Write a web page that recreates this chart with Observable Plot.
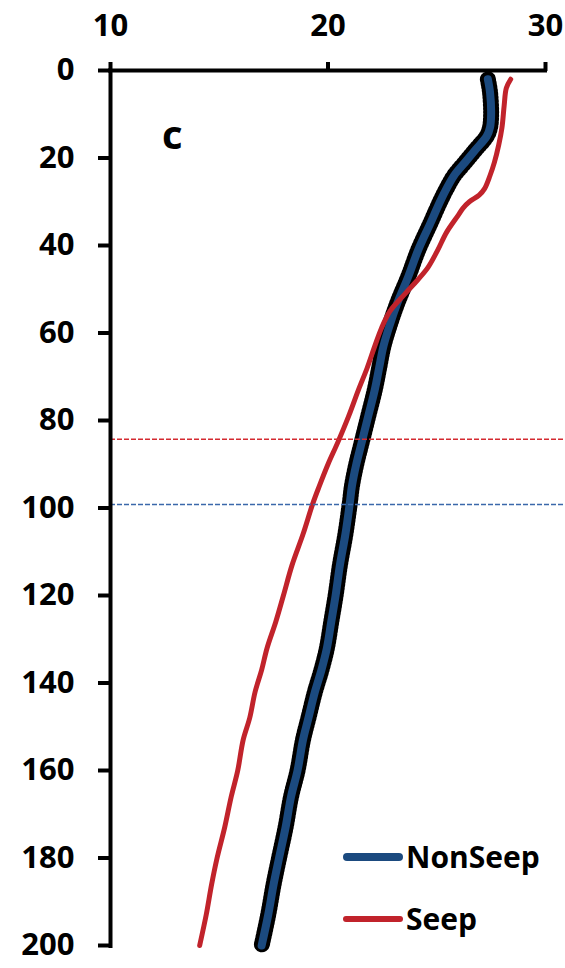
<!DOCTYPE html>
<html>
<head>
<meta charset="utf-8">
<script src="https://cdn.jsdelivr.net/npm/d3@7"></script>
<script src="https://cdn.jsdelivr.net/npm/@observablehq/plot@0.6"></script>
<style>
  html, body { margin: 0; padding: 0; background: #fff; }
  #wrap { position: relative; width: 565px; height: 968px; font-family: "Open Sans", Lato, sans-serif; font-weight: 700; color: #000; }
  #panel { position: absolute; left: 162px; top: 114px; font-size: 40px; line-height: 1; }
  #legend { position: absolute; left: 343px; top: 826px; font-size: 30px; line-height: 1; }
  .row { display: flex; align-items: center; height: 62px; }
  .sw { width: 60px; border-radius: 5px; margin-right: 3px; }
</style>
</head>
<body>
<div id="wrap">
  <div id="chart"></div>
  <div id="panel">c</div>
  <div id="legend"></div>
</div>
<script>
// ---- data ----
const seriesNames = ["NonSeep", "Seep"];
const seriesColors = ["#1b4a7f", "#c1232b"];

const depthNonSeep = [2, 5, 10, 13, 15, 18, 21, 24, 27, 30, 35, 41, 47, 53, 58, 63, 68, 73, 79, 85, 90, 95, 99, 106, 113, 120, 126, 132, 137, 142, 148, 153, 160, 166, 173, 180, 186, 193, 200];
const tempNonSeep  = [27.35, 27.45, 27.5, 27.45, 27.3, 26.8, 26.3, 25.8, 25.45, 25.15, 24.7, 24.15, 23.7, 23.2, 22.85, 22.55, 22.35, 22.15, 21.85, 21.55, 21.3, 21.1, 21.0, 20.8, 20.55, 20.35, 20.15, 19.95, 19.7, 19.4, 19.1, 18.85, 18.6, 18.3, 18.05, 17.75, 17.5, 17.25, 16.95];

const depthSeep = [2, 4, 8, 13, 17, 21, 24, 27, 28.5, 30, 31.5, 33, 37, 41, 45, 48, 51, 55, 59, 63, 68, 73, 79, 85, 90, 95, 99, 106, 113, 120, 126, 132, 137, 142, 148, 153, 160, 166, 173, 180, 186, 193, 200];
const tempSeep  = [28.4, 28.2, 28.1, 28.0, 27.85, 27.65, 27.45, 27.2, 26.95, 26.5, 26.2, 26.0, 25.45, 25.05, 24.6, 24.1, 23.55, 22.85, 22.45, 22.15, 21.8, 21.4, 20.95, 20.45, 20.0, 19.6, 19.3, 18.85, 18.35, 17.95, 17.6, 17.2, 16.95, 16.65, 16.4, 16.1, 15.85, 15.55, 15.25, 14.9, 14.65, 14.4, 14.1];

const refDepthSeep = 84.3;
const refDepthNonSeep = 99.2;

const xTicks = [10, 20, 30];
const yTicks = [0, 20, 40, 60, 80, 100, 120, 140, 160, 180, 200];
const xDomain = [10, 30];
const yDomain = [0, 200];

// ---- tables ----
const nonSeep = depthNonSeep.map((d, i) => ({depth: d, temp: tempNonSeep[i]}));
const seep = depthSeep.map((d, i) => ({depth: d, temp: tempSeep[i]}));

const chart = Plot.plot({
  width: 565,
  height: 968,
  marginLeft: 110,
  marginRight: 0,
  marginTop: 70,
  marginBottom: 20,
  x: {domain: xDomain, range: [110, 545], axis: null},
  y: {domain: yDomain, range: [70, 945], axis: null},
  style: {fontFamily: "'Open Sans', Lato, sans-serif", fontSize: "31px", fontWeight: "bold", color: "#000", background: "#fff", overflow: "visible"},
  marks: [
    Plot.line(nonSeep, {x: "temp", y: "depth", stroke: "#000", strokeWidth: 16, strokeDasharray: "1.2,2.4", curve: "catmull-rom"}),
    Plot.line(nonSeep, {x: "temp", y: "depth", stroke: seriesColors[0], strokeWidth: 8, strokeLinecap: "round", curve: "catmull-rom"}),
    Plot.line(seep, {x: "temp", y: "depth", stroke: seriesColors[1], strokeWidth: 5, strokeLinecap: "round", curve: "catmull-rom"}),
    Plot.ruleY([refDepthSeep], {stroke: "#d42a30", strokeWidth: 1.4, strokeDasharray: "5,2"}),
    Plot.ruleY([refDepthNonSeep], {stroke: "#3a68aa", strokeWidth: 1.4, strokeDasharray: "5,2"}),
    Plot.ruleX([xDomain[0]], {stroke: "#000", strokeWidth: 4}),
    Plot.ruleY([yDomain[0]], {x1: xDomain[0], x2: xDomain[1], stroke: "#000", strokeWidth: 4, strokeLinecap: "square"}),
    Plot.axisX(xTicks, {anchor: "top", label: null, tickSize: 9, tickPadding: 26, strokeWidth: 4, fontSize: 31, fontWeight: "bold"}),
    Plot.axisY(yTicks, {anchor: "left", label: null, tickSize: 12, tickPadding: 24, strokeWidth: 4, fontSize: 31, fontWeight: "bold"})
  ]
});
document.getElementById("chart").appendChild(chart);

// ---- legend ----
const legend = document.getElementById("legend");
seriesNames.forEach((name, i) => {
  const row = document.createElement("div");
  row.className = "row";
  const sw = document.createElement("div");
  sw.className = "sw";
  sw.style.height = (i === 0 ? 8 : 6) + "px";
  sw.style.background = seriesColors[i];
  const label = document.createElement("span");
  label.textContent = name;
  row.appendChild(sw);
  row.appendChild(label);
  legend.appendChild(row);
});
</script>
</body>
</html>
